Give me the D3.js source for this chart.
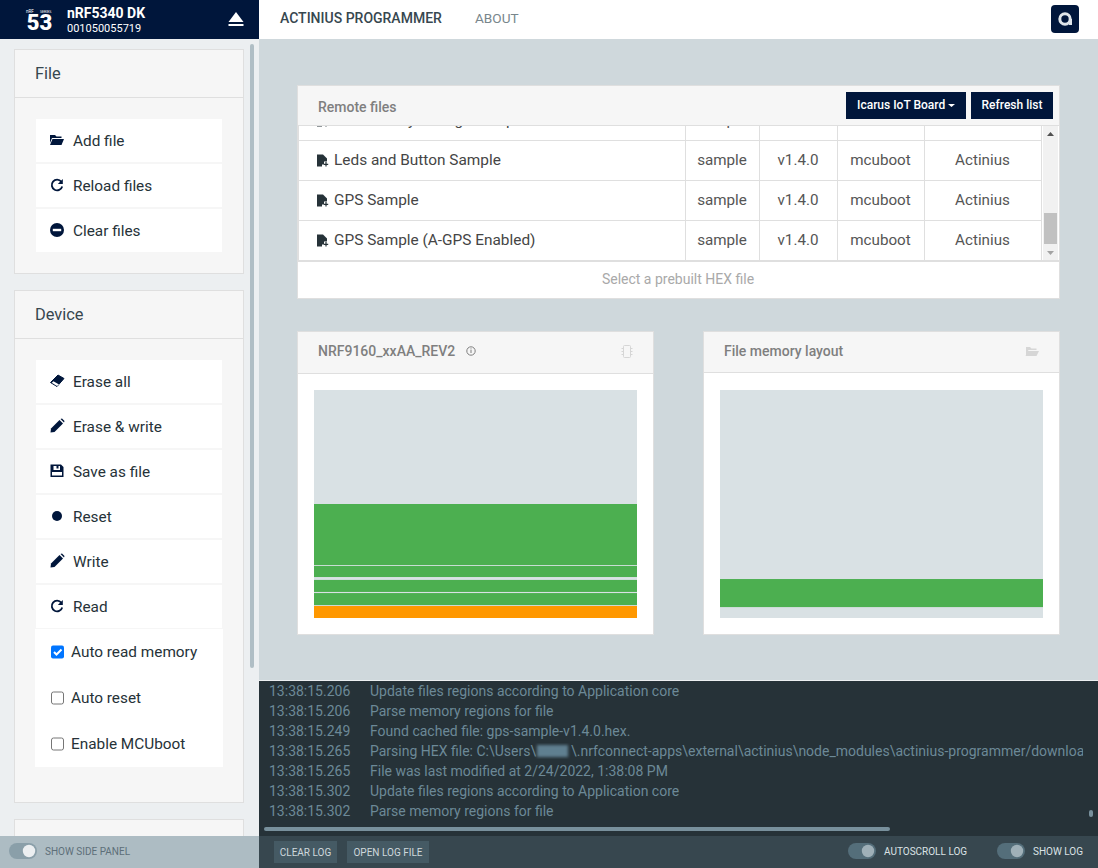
<!DOCTYPE html>
<html>
<head>
<meta charset="utf-8">
<script src="https://d3js.org/d3.v7.min.js"></script>
<style>
  html, body { margin: 0; padding: 0; background: #cfd8dc; overflow: hidden; }
  svg { display: block; font-family: Roboto, sans-serif; }
</style>
</head>
<body>
<svg id="app" width="1098" height="868"></svg>
<script>
// DATA
const fileActions = ["Add file", "Reload files", "Clear files"];
const fileIcons = ["folder", "reload", "minus"];
const deviceActions = ["Erase all", "Erase & write", "Save as file", "Reset", "Write", "Read"];
const deviceIcons = ["eraser", "pencil", "save", "dot", "pencil", "reload"];
const optionLabels = ["Auto read memory", "Auto reset", "Enable MCUboot"];
const optionChecked = [true, false, false];

// first row is scrolled almost out of view, only its descenders show
const remoteNames = ["Low Battery Voltage Sample", "Leds and Button Sample", "GPS Sample", "GPS Sample (A-GPS Enabled)"];
const remoteTypes = ["sample", "sample", "sample", "sample"];
const remoteVersions = ["v1.4.0", "v1.4.0", "v1.4.0", "v1.4.0"];
const remoteBoots = ["mcuboot", "mcuboot", "mcuboot", "mcuboot"];
const remoteAuthors = ["Actinius", "Actinius", "Actinius", "Actinius"];

// memory regions, KB from start of a 1024 KB flash
const flashSize = 1024;
const deviceStart = [0, 58, 117, 184, 238];
const deviceEnd = [54, 112, 171, 234, 512];
const deviceKind = ["boot", "app", "app", "app", "app"];
const fileStart = [49];
const fileEnd = [175];
const fileKind = ["app"];

const logTimes = ["13:38:15.206", "13:38:15.206", "13:38:15.249", "13:38:15.265", "13:38:15.265", "13:38:15.302", "13:38:15.302"];
const logMessages = [
  "Update files regions according to Application core",
  "Parse memory regions for file",
  "Found cached file: gps-sample-v1.4.0.hex.",
  "Parsing HEX file: C:\\Users\\",
  "File was last modified at 2/24/2022, 1:38:08 PM",
  "Update files regions according to Application core",
  "Parse memory regions for file"
];
const logPathTail = "\\.nrfconnect-apps\\external\\actinius\\node_modules\\actinius-programmer/download";

const NAVY = "#00163b";
const LOG_TEXT = "#6c8997";
const svg = d3.select("#app");

const defs = svg.append("defs");
defs.append("clipPath").attr("id", "tableClip").append("rect")
    .attr("x", 298).attr("y", 126).attr("width", 745).attr("height", 135);
defs.append("clipPath").attr("id", "logClip").append("rect")
    .attr("x", 260).attr("y", 682).attr("width", 823).attr("height", 145);
defs.append("filter").attr("id", "blur").append("feGaussianBlur").attr("stdDeviation", 1.5);

// helpers
function box(g, x, y, w, h, fill, stroke, rx) {
  return g.append("rect").attr("x", x).attr("y", y).attr("width", w).attr("height", h)
    .attr("fill", fill).attr("stroke", stroke || "none").attr("rx", rx || 0);
}
function label(g, x, y, str, size, fill, weight, anchor) {
  return g.append("text").attr("x", x).attr("y", y).text(str)
    .attr("font-size", size).attr("fill", fill)
    .attr("font-weight", weight || 400).attr("text-anchor", anchor || "start");
}
function hline(g, x1, x2, y, color) {
  return g.append("line").attr("x1", x1).attr("x2", x2).attr("y1", y).attr("y2", y).attr("stroke", color);
}

// icons drawn around (0,0), about 14px wide
const iconDraw = {
  folder: g => {
    g.append("path").attr("fill", NAVY).attr("d", "M-7,-5 h5 l1.5,1.5 h5 v1.5 h-9.5 l-2,5 z");
    g.append("path").attr("fill", NAVY).attr("d", "M-4.5,-1 h11.5 l-2.5,6 h-11.5 z");
  },
  reload: g => {
    g.append("path").attr("fill", "none").attr("stroke", NAVY).attr("stroke-width", 1.8)
      .attr("d", "M4.3,-3.2 A5.3,5.3 0 1 0 5.2,1.4");
    g.append("path").attr("fill", NAVY).attr("d", "M5.8,-6 v5 h-5 z");
  },
  minus: g => {
    g.append("circle").attr("r", 7).attr("fill", NAVY);
    g.append("rect").attr("x", -4.2).attr("y", -1.2).attr("width", 8.4).attr("height", 2.4).attr("fill", "#fff");
  },
  eraser: g => {
    g.append("path").attr("fill", NAVY).attr("stroke", NAVY).attr("stroke-linejoin", "round")
      .attr("d", "M1,-6 L7,-2.5 L0,5.5 L-6.5,1.5 z");
    g.append("path").attr("fill", "#fff").attr("d", "M-3.6,0.2 L2,3.6 L0,5 L-5.2,1.8 z");
  },
  pencil: g => {
    g.append("path").attr("fill", NAVY).attr("d", "M-6.5,6.5 L-6,2.5 L2.5,-6 L6,-2.5 L-2.5,6 z");
    g.append("path").attr("fill", NAVY).attr("d", "M3.5,-7 L5,-7.5 L7.5,-5 L7,-3.5 z");
  },
  save: g => {
    g.append("path").attr("fill", NAVY).attr("fill-rule", "evenodd")
      .attr("d", "M-6.5,-6.5 H4 L6.5,-4 V6 H-6.5 z M-3.5,-5 V-1 H3 V-5 H1.5 V-2.5 H-0.5 V-5 z M-5,1 V4.5 H5 V1 z");
  },
  dot: g => { g.append("circle").attr("r", 5).attr("fill", NAVY); }
};

// PAGE AREAS
box(svg, 0, 0, 1098, 868, "#cfd8dc");
box(svg, 259, 0, 839, 39, "#fff");
box(svg, 0, 39, 259, 797, "#eceff1");
box(svg, 0, 0, 259, 39, NAVY);

// device header
label(svg, 39.5, 30, "53", 22, "#fff", 900, "middle");
label(svg, 26, 13, "nRF", 4.5, "#fff", 400);
label(svg, 40, 13, "SERIES", 3.5, "#fff", 400);
label(svg, 67, 18, "nRF5340 DK", 14, "#fff", 700);
label(svg, 67, 32, "001050055719", 11, "#fff", 400);
svg.append("path").attr("fill", "#fff").attr("d", "M236,12 L243.5,22 H228.5 z");
box(svg, 228.5, 24, 15, 2, "#fff");

// nav bar
label(svg, 280, 23, "ACTINIUS PROGRAMMER", 14, "#37474f", 500);
label(svg, 475, 23, "ABOUT", 13.6, "#78868c", 400);
box(svg, 1051, 5, 28, 28, NAVY, null, 4);
svg.append("circle").attr("cx", 1065).attr("cy", 19).attr("r", 5.2)
   .attr("fill", "none").attr("stroke", "#dfe5ea").attr("stroke-width", 3);
box(svg, 1069, 19, 3, 6, "#dfe5ea");

// SIDE PANEL
const side = svg.append("g");
box(side, 14.5, 49.5, 229, 224, "#f6f6f6", "#dfdfdf");
box(side, 14.5, 290.5, 229, 512, "#f6f6f6", "#dfdfdf");
box(side, 14.5, 819.5, 229, 40, "#f6f6f6", "#dfdfdf");
hline(side, 15, 243, 97.5, "#dfdfdf");
hline(side, 15, 243, 338.5, "#dfdfdf");
label(side, 35, 79, "File", 16.4, "#37474f");
label(side, 35, 320, "Device", 16.4, "#37474f");
box(side, 250, 44, 4, 624, "#b0bec5", null, 2);

function actionList(labels, icons, top) {
  const y = d3.scaleBand().domain(labels).range([top, top + labels.length * 45]);
  labels.forEach((d, i) => {
    const yy = y(d);
    box(side, 36, yy, 186, 43, "#fff");
    const ic = side.append("g").attr("transform", `translate(57,${yy + 21})`);
    iconDraw[icons[i]](ic);
    label(side, 73, yy + 27, d, 15.35, "#263238");
  });
}
actionList(fileActions, fileIcons, 119);
actionList(deviceActions, deviceIcons, 360);

box(side, 35, 629, 188, 138, "#fff");
const optionY = d3.scaleBand().domain(optionLabels).range([629, 767]);
optionLabels.forEach((d, i) => {
  const cy = optionY(d) + 23;
  if (optionChecked[i]) {
    box(side, 51, cy - 6.5, 13, 13, "#0075ff", null, 2);
    side.append("path").attr("fill", "none").attr("stroke", "#fff").attr("stroke-width", 2)
      .attr("d", `M54,${cy} l2.5,2.5 l5,-5`);
  } else {
    box(side, 51.5, cy - 6, 12, 12, "#fff", "#767676", 2);
  }
  label(side, 71, cy + 5, d, 15.35, "#263238");
});

box(svg, 0, 836, 259, 32, "#adbcc3");

// REMOTE FILES
const remote = svg.append("g");
box(remote, 297.5, 85.5, 762, 213, "#fff", "#dfdfdf");
box(remote, 298, 86, 761, 39, "#f6f6f6");
hline(remote, 298, 1059, 125.5, "#dfdfdf");
label(remote, 318, 112, "Remote files", 14, "#7f7f7f", 500);
box(remote, 846, 92, 120, 27, NAVY);
label(remote, 857, 109, "Icarus IoT Board", 12, "#fff", 500);
remote.append("path").attr("fill", "#fff").attr("d", "M948,104 h7 l-3.5,3 z");
box(remote, 971, 92, 82, 27, NAVY);
label(remote, 1012, 109, "Refresh list", 12, "#fff", 500, "middle");

const rowY = d3.scaleBand().domain(d3.range(remoteNames.length)).range([100.5, 260.5]);
const colEdges = [298.5, 685.5, 759.5, 837.5, 924.5, 1041.5];
const table = remote.append("g").attr("clip-path", "url(#tableClip)");
remoteNames.forEach((name, i) => {
  const top = rowY(i), base = top + rowY.bandwidth() / 2 + 5;
  hline(table, 298, 1042, top + 40, "#dfdfdf");
  const ic = table.append("g").attr("transform", `translate(322,${top + 20})`);
  ic.append("path").attr("fill", "#263238").attr("d", "M-5,-6 H1 L5,-2 V1 H2 V4 H0 V6 H-5 z");
  ic.append("path").attr("stroke", "#263238").attr("stroke-width", 1.2).attr("d", "M4,1.5 V6 M1.8,3.8 H6.2");
  label(table, 334, base - 0.5, name, 15.4, "#454545");
  [remoteTypes, remoteVersions, remoteBoots, remoteAuthors].forEach((col, c) => {
    label(table, (colEdges[c + 1] + colEdges[c + 2]) / 2 - 0.5, base - 1, col[i], 15.2, "#555", 400, "middle");
  });
});
colEdges.forEach(x => {
  table.append("line").attr("x1", x).attr("x2", x).attr("y1", 126).attr("y2", 261).attr("stroke", "#dfdfdf");
});
hline(remote, 298, 1059, 261, "#dfdfdf").attr("stroke-width", 2);
// table scrollbar
box(remote, 1043, 126, 15, 134, "#f1f1f1");
box(remote, 1044, 213, 13, 31, "#c1c1c1");
remote.append("path").attr("fill", "#505050").attr("d", "M1050.5,132 l3.5,4 h-7 z");
remote.append("path").attr("fill", "#a3a3a3").attr("d", "M1050.5,255 l3.5,-4 h-7 z");
label(remote, 678, 284, "Select a prebuilt HEX file", 14, "#a9a9a9", 400, "middle");

// MEMORY LAYOUT CARDS
const memHeight = 228, memWidth = 323;
const memY = d3.scaleLinear().domain([0, flashSize]).range([memHeight, 0]);
const memColor = d3.scaleOrdinal().domain(["app", "boot"]).range(["#4caf50", "#ff9800"]);

function memoryCard(x, title, headerLine, starts, ends, kinds) {
  const card = svg.append("g").attr("transform", `translate(${x},332)`);
  box(card, -0.5, -0.5, 356, 303, "#fff", "#dfdfdf");
  box(card, 0, 0, 355, headerLine, "#f6f6f6");
  hline(card, 0, 355, headerLine + 0.5, "#dfdfdf");
  label(card, 20, 24, title, 14, "#7f7f7f", 500);
  const plot = card.append("g").attr("transform", "translate(16,58)");
  box(plot, 0, 0, memWidth, memHeight, "#d9e1e4");
  plot.selectAll("rect.region").data(starts).join("rect")
    .attr("class", "region")
    .attr("x", 0).attr("width", memWidth)
    .attr("y", (d, i) => memY(ends[i]))
    .attr("height", (d, i) => memY(d) - memY(ends[i]))
    .attr("fill", (d, i) => memColor(kinds[i]));
  return card;
}
const deviceCard = memoryCard(298, "NRF9160_xxAA_REV2", 41, deviceStart, deviceEnd, deviceKind);
const info = deviceCard.append("g").attr("transform", "translate(173,19)");
info.append("circle").attr("r", 4.2).attr("fill", "none").attr("stroke", "#7f7f7f");
info.append("rect").attr("x", -0.5).attr("y", -1).attr("width", 1).attr("height", 3).attr("fill", "#7f7f7f");
info.append("rect").attr("x", -0.5).attr("y", -2.6).attr("width", 1).attr("height", 1).attr("fill", "#7f7f7f");
box(deviceCard, 325.5, 13.5, 7, 12, "none", "#d6d6d6", 1);
deviceCard.append("path").attr("stroke", "#d6d6d6").attr("d", "M323.5,16.5 h2 M323.5,19.5 h2 M323.5,22.5 h2 M332.5,16.5 h2 M332.5,19.5 h2 M332.5,22.5 h2");

const fileCard = memoryCard(704, "File memory layout", 40, fileStart, fileEnd, fileKind);
fileCard.append("path").attr("fill", "#d6d6d6").attr("d", "M322,15 h4 l1.5,1.5 h5 v1.5 h-8 l-2.5,5 z M324,19 h11 l-2.5,5 h-11 z");

// LOG
const log = svg.append("g");
box(log, 259, 681, 839, 155, "#263238");
hline(log, 259, 1098, 680.5, "#eceff1");
box(log, 259, 836, 839, 32, "#37474f");
const logY = d3.scaleBand().domain(d3.range(logTimes.length)).range([681, 821]);
const logLines = log.append("g").attr("clip-path", "url(#logClip)");
logTimes.forEach((t, i) => {
  const base = logY(i) + 15;
  label(logLines, 269, base, t, 14, LOG_TEXT);
  label(logLines, 370, base, logMessages[i], 14, LOG_TEXT);
  if (i === 3) {
    box(logLines, 537, 745, 31, 12, "#5f7f90").attr("filter", "url(#blur)");
    label(logLines, 571, base, logPathTail, 14, LOG_TEXT);
  }
});
box(log, 264, 827, 626, 4, "#78909c", null, 2);
box(log, 1089, 810, 4, 7, "#78909c", null, 2);

function logButton(x, w, str) {
  box(log, x, 841, w, 22, "#455a64");
  label(log, x + w / 2, 856, str, 10, "#cfd8dc", 400, "middle");
}
logButton(274, 63, "CLEAR LOG");
logButton(347, 82, "OPEN LOG FILE");

function toggle(x, knobX, track, knob, str, textColor, textX) {
  box(svg, x, 843, 28, 16, track, null, 8);
  svg.append("circle").attr("cx", knobX).attr("cy", 851).attr("r", 6.2).attr("fill", knob);
  label(svg, textX, 854.5, str, 10, textColor, 400);
}
toggle(9, 29, "#8a9fa9", "#eceff1", "SHOW SIDE PANEL", "#5d6f79", 45);
toggle(848, 868, "#546e7a", "#9fb0b8", "AUTOSCROLL LOG", "#dbe2e5", 884);
toggle(997, 1017, "#546e7a", "#9fb0b8", "SHOW LOG", "#dbe2e5", 1033);
</script>
</body>
</html>
